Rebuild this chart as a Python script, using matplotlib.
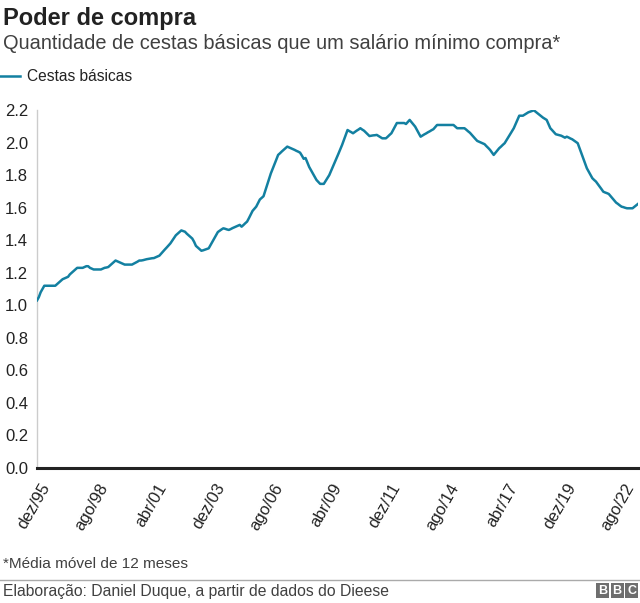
import matplotlib
matplotlib.use("Agg")
import matplotlib.pyplot as plt
from matplotlib.patches import Rectangle
from matplotlib.lines import Line2D
from matplotlib.transforms import ScaledTranslation
import numpy as np

plt.rcParams['font.family'] = ['Liberation Sans', 'DejaVu Sans']

# Monthly values (12-month moving average), dez/1995 .. mai/2023
v1995 = [1.03]
v1996 = [1.05, 1.08, 1.10, 1.12, 1.12, 1.12, 1.12, 1.12, 1.12, 1.12, 1.13, 1.14]
v1997 = [1.15, 1.16, 1.165, 1.17, 1.175, 1.19, 1.20, 1.21, 1.22, 1.23, 1.23, 1.23]
v1998 = [1.23, 1.235, 1.24, 1.24, 1.23, 1.225, 1.22, 1.22, 1.22, 1.22, 1.22, 1.225]
v1999 = [1.23, 1.232, 1.235, 1.245, 1.255, 1.265, 1.275, 1.27, 1.265, 1.26, 1.255, 1.25]
v2000 = [1.25, 1.25, 1.25, 1.25, 1.256, 1.262, 1.268, 1.275, 1.275, 1.277, 1.28, 1.283]
v2001 = [1.285, 1.287, 1.289, 1.29, 1.295, 1.30, 1.305, 1.318, 1.33, 1.343, 1.355, 1.368]
v2002 = [1.38, 1.397, 1.413, 1.43, 1.44, 1.45, 1.46, 1.456, 1.452, 1.44, 1.43, 1.42]
v2003 = [1.41, 1.39, 1.365, 1.355, 1.345, 1.335, 1.338, 1.342, 1.346, 1.35, 1.37, 1.39]
v2004 = [1.41, 1.43, 1.45, 1.458, 1.466, 1.473, 1.47, 1.466, 1.463, 1.468, 1.474, 1.479]
v2005 = [1.484, 1.489, 1.494, 1.483, 1.493, 1.504, 1.514, 1.535, 1.558, 1.58, 1.593, 1.606]
v2006 = [1.628, 1.65, 1.66, 1.67, 1.705, 1.74, 1.775, 1.81, 1.838, 1.867, 1.895, 1.924]
v2007 = [1.934, 1.945, 1.955, 1.965, 1.975, 1.97, 1.965, 1.96, 1.955, 1.949, 1.944, 1.938]
v2008 = [1.92, 1.90, 1.905, 1.878, 1.85, 1.83, 1.81, 1.79, 1.77, 1.758, 1.746, 1.746]
v2009 = [1.746, 1.764, 1.782, 1.80, 1.826, 1.852, 1.878, 1.904, 1.931, 1.958, 1.985, 2.016]
v2010 = [2.046, 2.077, 2.07, 2.064, 2.057, 2.065, 2.073, 2.08, 2.088, 2.08, 2.073, 2.062]
v2011 = [2.051, 2.04, 2.042, 2.044, 2.045, 2.047, 2.04, 2.033, 2.026, 2.026, 2.026, 2.036]
v2012 = [2.047, 2.057, 2.078, 2.10, 2.12, 2.12, 2.12, 2.12, 2.12, 2.114, 2.127, 2.139]
v2013 = [2.125, 2.112, 2.098, 2.077, 2.057, 2.036, 2.043, 2.05, 2.056, 2.063, 2.069, 2.076]
v2014 = [2.082, 2.095, 2.108, 2.108, 2.108, 2.108, 2.108, 2.108, 2.108, 2.108, 2.108, 2.108]
v2015 = [2.098, 2.088, 2.088, 2.088, 2.088, 2.088, 2.079, 2.069, 2.06, 2.047, 2.035, 2.022]
v2016 = [2.01, 2.005, 2.0, 1.995, 1.99, 1.978, 1.967, 1.955, 1.94, 1.924, 1.938, 1.951]
v2017 = [1.965, 1.975, 1.986, 1.996, 2.014, 2.033, 2.051, 2.07, 2.088, 2.114, 2.14, 2.165]
v2018 = [2.165, 2.165, 2.172, 2.179, 2.186, 2.19, 2.194, 2.198, 2.189, 2.18, 2.171, 2.162]
v2019 = [2.153, 2.146, 2.139, 2.114, 2.088, 2.076, 2.063, 2.051, 2.048, 2.045, 2.042, 2.036]
v2020 = [2.03, 2.036, 2.031, 2.025, 2.02, 2.012, 2.004, 1.996, 1.965, 1.934, 1.903, 1.873]
v2021 = [1.842, 1.822, 1.801, 1.781, 1.77, 1.76, 1.745, 1.729, 1.714, 1.698, 1.693, 1.689]
v2022 = [1.684, 1.671, 1.657, 1.644, 1.631, 1.623, 1.614, 1.606, 1.603, 1.599, 1.596, 1.596]
v2023 = [1.596, 1.596, 1.605, 1.614, 1.623]

values = (v1995 + v1996 + v1997 + v1998 + v1999 + v2000 + v2001 + v2002 + v2003
          + v2004 + v2005 + v2006 + v2007 + v2008 + v2009 + v2010 + v2011 + v2012
          + v2013 + v2014 + v2015 + v2016 + v2017 + v2018 + v2019 + v2020 + v2021
          + v2022 + v2023)

tick_labels = ['dez/95', 'ago/98', 'abr/01', 'dez/03', 'ago/06', 'abr/09',
               'dez/11', 'ago/14', 'abr/17', 'dez/19', 'ago/22']
tick_step = 32
y_ticks = [0.0, 0.2, 0.4, 0.6, 0.8, 1.0, 1.2, 1.4, 1.6, 1.8, 2.0, 2.2]

W, H = 640, 603
fig = plt.figure(figsize=(W / 100, H / 100), dpi=100)
ax = fig.add_axes([37 / W, 1 - 468 / H, (638 - 37) / W, (468 - 110) / H])

x = np.arange(len(values))
line_color = '#1380A1'
ax.plot(x, values, color=line_color, lw=1.8, solid_joinstyle='round', zorder=3)

ax.set_xlim(0, len(values) - 1)
ax.set_ylim(0, 2.2)
ax.set_yticks(y_ticks)
ax.set_yticklabels([f'{t:.1f}' for t in y_ticks], fontsize=12, color='#222222')
for lbl in ax.get_yticklabels():
    lbl.set_ha('left')
ax.tick_params(axis='y', length=0, pad=23)

ax.set_xticks(np.arange(len(tick_labels)) * tick_step)
ax.set_xticklabels(tick_labels, rotation=60, ha='right', va='center',
                   rotation_mode='anchor', fontsize=12, color='#222222')
ax.tick_params(axis='x', length=0, pad=12)
shift = ScaledTranslation(9 / 100, 0, fig.dpi_scale_trans)
for lbl in ax.get_xticklabels():
    lbl.set_transform(lbl.get_transform() + shift)

for s in ['top', 'right', 'bottom']:
    ax.spines[s].set_visible(False)
ax.spines['left'].set_color('#cccccc')
ax.spines['left'].set_linewidth(1)
ax.axhline(0, color='#222222', lw=2.2, zorder=4, clip_on=False)

# Titles
fig.text(3 / W, 1 - 25 / H, 'Poder de compra', fontsize=17, fontweight='bold',
         color='#222222', ha='left', va='baseline')
fig.text(3 / W, 1 - 49 / H, 'Quantidade de cestas básicas que um salário mínimo compra*',
         fontsize=14.4, color='#404040', ha='left', va='baseline')

# Legend
fig.add_artist(Line2D([0 / W, 20 / W], [1 - 76 / H, 1 - 76 / H], color=line_color, lw=1.8))
fig.text(27 / W, 1 - 81 / H, 'Cestas básicas', fontsize=11.2, color='#222222',
         ha='left', va='baseline')

# Footer
fig.text(3 / W, 1 - 568 / H, '*Média móvel de 12 meses', fontsize=11.1, color='#404040',
         ha='left', va='baseline')
fig.add_artist(Line2D([0, 1], [1 - 579.5 / H, 1 - 579.5 / H], color='#aaaaaa', lw=1))
fig.text(3 / W, 1 - 596 / H, 'Elaboração: Daniel Duque, a partir de dados do Dieese',
         fontsize=11.3, color='#404040', ha='left', va='baseline')

# BBC logo
for i, ch in enumerate('BBC'):
    x0 = 596 + i * 14.5
    fig.add_artist(Rectangle((x0 / W, 1 - 598 / H), 13 / W, 15 / H,
                             facecolor='#6e6e6e', edgecolor='none'))
    fig.text((x0 + 6.5) / W, 1 - 590.5 / H, ch, fontsize=9, fontweight='bold',
             color='white', ha='center', va='center')

fig.savefig('out.png', dpi=100)
